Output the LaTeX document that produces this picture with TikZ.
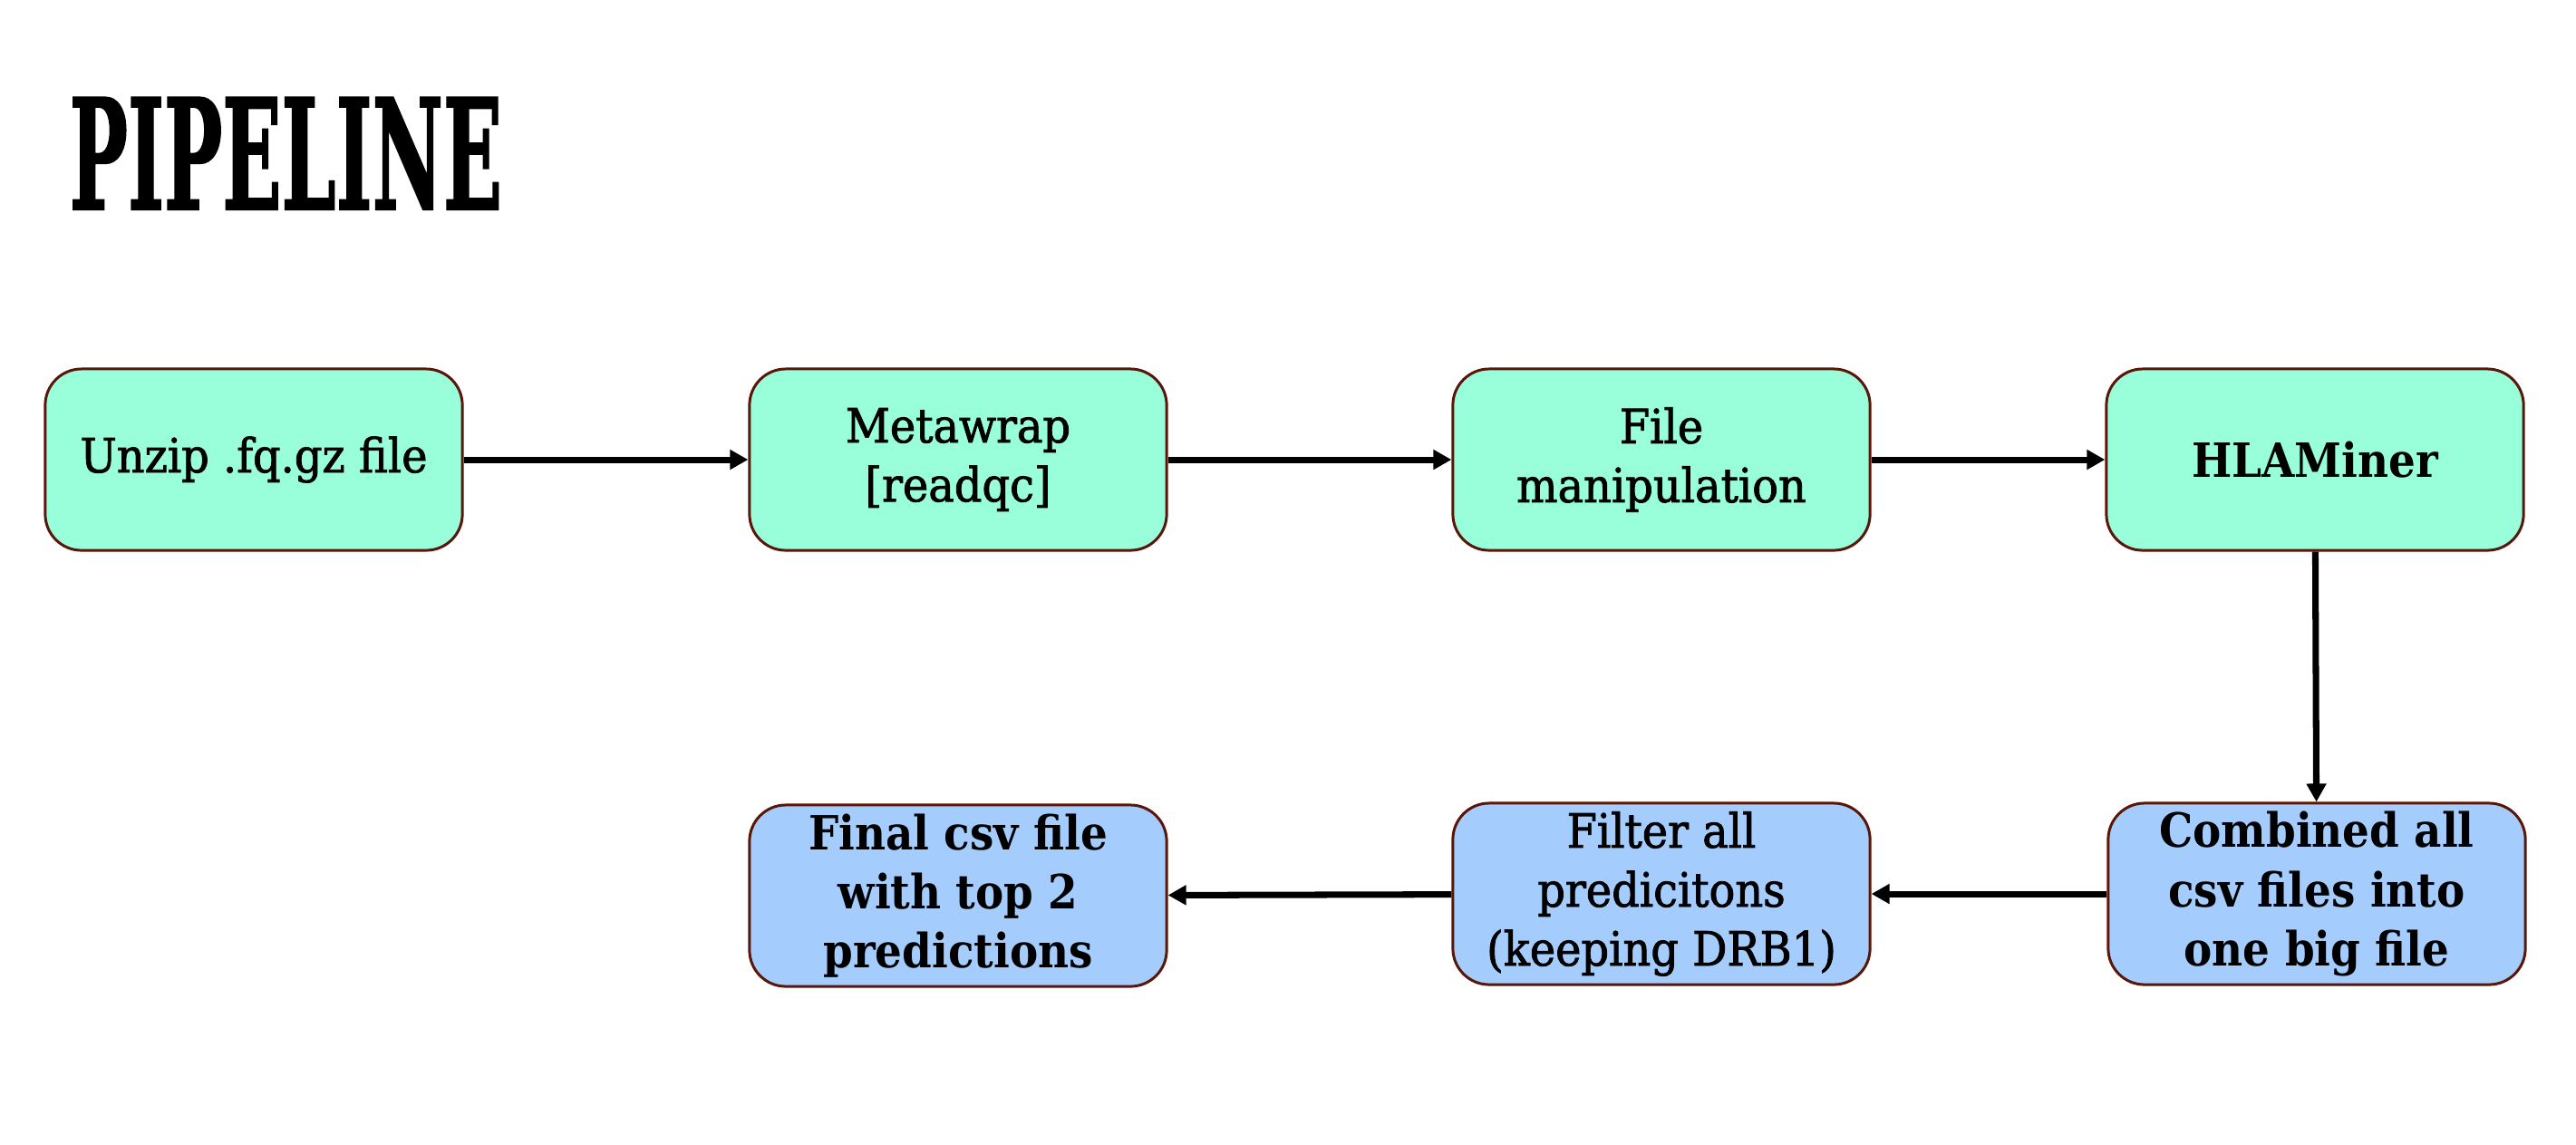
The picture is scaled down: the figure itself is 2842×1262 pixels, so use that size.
\documentclass[tikz,border=0pt]{standalone}
\usepackage{fontspec}
\usetikzlibrary{arrows.meta}
\newfontfamily\boxfont[FakeStretch=0.92,FakeBold=1.6]{DejaVu Serif}
\newfontfamily\boldboxfont[FakeStretch=0.90]{DejaVu Serif Bold}
\newfontfamily\titlefont[FakeBold=1.5]{DejaVu Serif Bold}
\definecolor{greenfill}{RGB}{152,255,218}
\definecolor{bluefill}{RGB}{164,204,252}
\definecolor{boxline}{RGB}{90,22,8}
\tikzset{
  stepbox/.style={draw=boxline, line width=0.85pt, rounded corners=0.4cm,
    minimum width=4.6cm, minimum height=2.0cm, align=center, inner sep=0pt,
    font=\boxfont\fontsize{14.8}{18.5}\selectfont},
  strongbox/.style={font=\boldboxfont\fontsize{14.8}{18.5}\selectfont},
  greenbox/.style={stepbox, fill=greenfill},
  bluebox/.style={stepbox, fill=bluefill},
  flow/.style={line width=2pt, -{Triangle[length=0.2cm,width=0.21cm]}}
}
\begin{document}
\begin{tikzpicture}[x=0.01cm,y=-0.01cm]
\useasboundingbox (0,0) rectangle (2842,1262);
\node[anchor=north west, inner sep=0pt] (title) at (76,107)
  {\resizebox{4.77cm}{1.23cm}{\titlefont PIPELINE}};
\node[greenbox] (b1) at (280,507) {Unzip .fq.gz file};
\node[greenbox] (b2) at (1057,507) {Metawrap\\{}[readqc]};
\node[greenbox] (b3) at (1833,507) {File\\manipulation};
\node[greenbox, strongbox] (b4) at (2554,507) {HLAMiner};
\node[bluebox, strongbox] (b5) at (2556,986) {Combined all\\csv files into\\one big file};
\node[bluebox] (b6) at (1833,986) {Filter all\\predicitons\\(keeping DRB1)};
\node[bluebox, strongbox] (b7) at (1057,988) {Final csv file\\with top 2\\predictions};
\draw[flow] (b1) -- (b2);
\draw[flow] (b2) -- (b3);
\draw[flow] (b3) -- (b4);
\draw[flow] (b4) -- (b5);
\draw[flow] (b5) -- (b6);
\draw[flow] (b6) -- (b7);
\end{tikzpicture}
\end{document}
